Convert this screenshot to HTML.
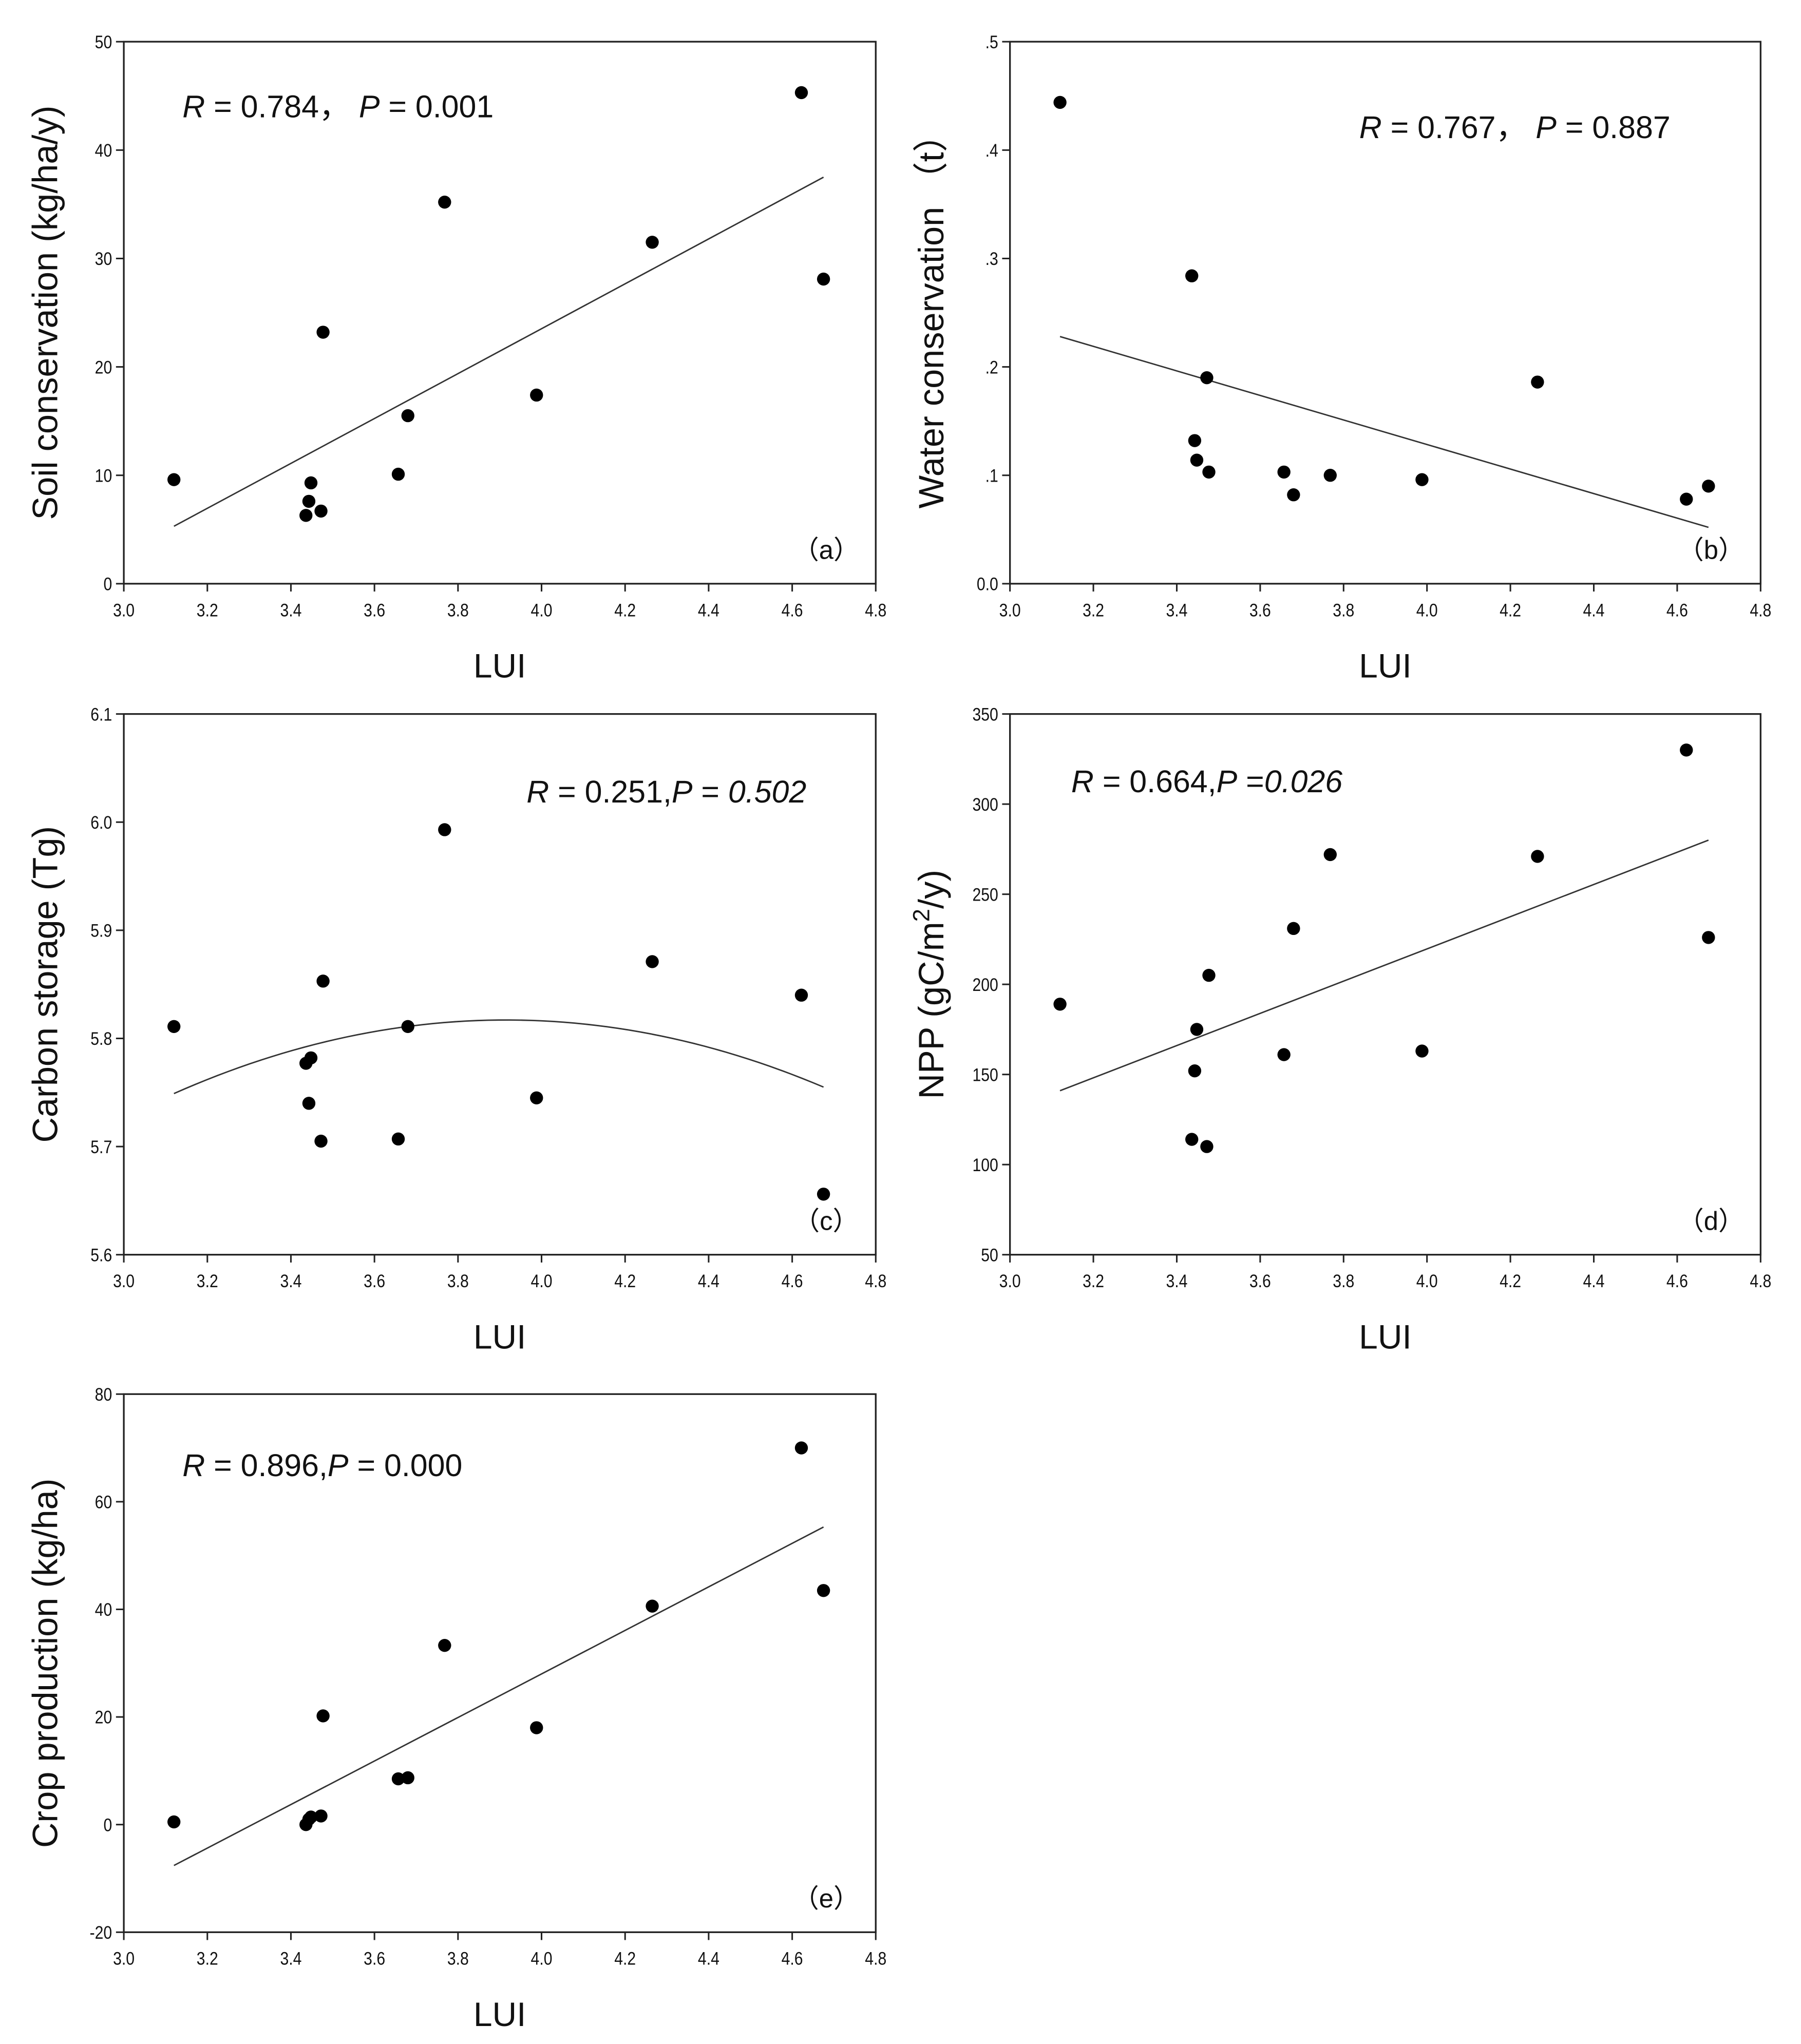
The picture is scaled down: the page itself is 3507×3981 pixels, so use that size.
<!DOCTYPE html>
<html><head><meta charset="utf-8"><style>
html,body{margin:0;padding:0;background:#fff;}
svg{display:block;}
text{font-family:"Liberation Sans","Noto Sans CJK SC",sans-serif;fill:#111;}
</style></head><body>
<svg id="fig" xmlns="http://www.w3.org/2000/svg" width="3507" height="3981" viewBox="0 0 1382 1568.8">
<rect x="0" y="0" width="1382" height="1568.8" fill="#fff"/>
</svg>
<script>
// Shared x values (LUI)
const luiX = [3.12, 3.436, 3.443, 3.448, 3.472, 3.477, 3.657, 3.68, 3.768, 3.988, 4.265, 4.622, 4.675];
const xTicks = ["3.0","3.2","3.4","3.6","3.8","4.0","4.2","4.4","4.6","4.8"];
// Panel a
const soilVals = [9.6, 6.3, 7.6, 9.3, 6.7, 23.2, 10.1, 15.5, 35.2, 17.4, 31.5, 45.3, 28.1];
const soilFit = [5.3, 37.5];
const soilTicks = ["0","10","20","30","40","50"];
// Panel b
const waterVals = [0.444, 0.284, 0.132, 0.114, 0.19, 0.103, 0.103, 0.082, 0.100, 0.096, 0.186, 0.078, 0.090];
const waterFit = [0.228, 0.052];
const waterTicks = ["0.0",".1",".2",".3",".4",".5"];
// Panel c
const carbonVals = [5.811, 5.777, 5.740, 5.782, 5.705, 5.853, 5.707, 5.811, 5.993, 5.745, 5.871, 5.840, 5.656];
const carbonFit = [5.749, 5.817, 5.755]; // at x start, mid, end (quadratic)
const carbonTicks = ["5.6","5.7","5.8","5.9","6.0","6.1"];
// Panel d
const nppVals = [189, 114, 152, 175, 110, 205, 161, 231, 272, 163, 271, 330, 226];
const nppFit = [141, 280];
const nppTicks = ["50","100","150","200","250","300","350"];
// Panel e
const cropVals = [0.5, 0.0, 1.0, 1.4, 1.6, 20.2, 8.5, 8.7, 33.3, 18.0, 40.6, 70.0, 43.5];
const cropFit = [-7.6, 55.3];
const cropTicks = ["-20","0","20","40","60","80"];

const NS = "http://www.w3.org/2000/svg";
const svg = document.getElementById("fig");
function mk(tag, attrs, parent){
  const e = document.createElementNS(NS, tag);
  for (const k in attrs) e.setAttribute(k, attrs[k]);
  (parent||svg).appendChild(e);
  return e;
}

function panel(opt){
  const g = mk("g", {});
  
  
  const {L,R,T,B,ymin,ymax} = opt;
  const sx = v => L + (v-3.0)/(1.8)*(R-L);
  const sy = v => B - (v-ymin)/(ymax-ymin)*(B-T);
  const frame = mk("rect", {x:L,y:T,width:R-L,height:B-T,fill:"none",stroke:"#222","stroke-width":1.3}, g);
  
  
  xTicks.forEach(t=>{
    const x = sx(parseFloat(t));
    mk("line",{x1:x,x2:x,y1:B,y2:B+6,stroke:"#222","stroke-width":1.2},g);
    const tx = mk("text",{x:x,y:B+25,"text-anchor":"middle","font-size":14,transform:`translate(${x},0) scale(0.85,1) translate(${-x},0)`},g);
    tx.textContent = t;
    
    
  });
  opt.yTicks.forEach(t=>{
    const y = sy(parseFloat(t));
    mk("line",{x1:L-6,x2:L,y1:y,y2:y,stroke:"#222","stroke-width":1.2},g);
    const tx = mk("text",{x:L-9,y:y+5,"text-anchor":"end","font-size":14,transform:`translate(${L-9},0) scale(0.85,1) translate(${-(L-9)},0)`},g);
    tx.textContent = t;
    
    
  });
  let d;
  if (opt.fit.length === 2){
    d = `M${sx(luiX[0])},${sy(opt.fit[0])} L${sx(luiX[12])},${sy(opt.fit[1])}`;
  } else {
    const x0=luiX[0], x2=luiX[12], x1=(x0+x2)/2;
    const [y0,y1,y2]=opt.fit;
    const pts=[];
    for(let i=0;i<=60;i++){
      const x=x0+(x2-x0)*i/60;
      const l0=((x-x1)*(x-x2))/((x0-x1)*(x0-x2));
      const l1=((x-x0)*(x-x2))/((x1-x0)*(x1-x2));
      const l2=((x-x0)*(x-x1))/((x2-x0)*(x2-x1));
      pts.push(`${sx(x)},${sy(y0*l0+y1*l1+y2*l2)}`);
    }
    d = "M"+pts.join(" L");
  }
  const fl = mk("path",{d:d,fill:"none",stroke:"#333","stroke-width":1.1},g);
  
  
  opt.vals.forEach((v,i)=>{
    const c = mk("circle",{cx:sx(luiX[i]),cy:sy(v),r:5,fill:"#000"},g);
    
    
  });
  const xt = mk("text",{x:(L+R)/2,y:B+72,"text-anchor":"middle","font-size":26},g);
  xt.textContent = "LUI";
  
  
  const yc = (T+B)/2, xc = L-60;
  const yt = mk("text",{x:xc,y:yc,"text-anchor":"middle","font-size":27,transform:`rotate(-90 ${xc} ${yc}) translate(0,9)`},g);
  yt.innerHTML = opt.ytitle;
  
  
  const an = mk("text",{x:opt.ax,y:opt.ay,"font-size":24},g);
  an.innerHTML = opt.ann;
  
  
  const pl = mk("text",{x:R-38,y:B-19,"font-size":20},g);
  pl.textContent = "（"+opt.letter+"）";
  
  
  pl.setAttribute('text-anchor','middle');
}

panel({name:"panel-a-soil",L:95,R:672,T:32,B:448,ymin:0,ymax:50,yTicks:soilTicks,vals:soilVals,fit:soilFit,
  ytitle:"Soil conservation (kg/ha/y)",ax:140,ay:90,letter:"a",
  ann:'<tspan font-style="italic">R</tspan> = 0.784，  <tspan font-style="italic">P</tspan> = 0.001'});
panel({name:"panel-b-water",L:775,R:1351,T:32,B:448,ymin:0,ymax:0.5,yTicks:waterTicks,vals:waterVals,fit:waterFit,
  ytitle:"Water conservation （t）",ax:1043,ay:106,letter:"b",
  ann:'<tspan font-style="italic">R</tspan> = 0.767，  <tspan font-style="italic">P</tspan> = 0.887'});
panel({name:"panel-c-carbon",L:95,R:672,T:548,B:963,ymin:5.6,ymax:6.1,yTicks:carbonTicks,vals:carbonVals,fit:carbonFit,
  ytitle:"Carbon storage (Tg)",ax:404,ay:616,letter:"c",
  ann:'<tspan font-style="italic">R</tspan> = 0.251,<tspan font-style="italic">P</tspan> = <tspan font-style="italic">0.502</tspan>'});
panel({name:"panel-d-npp",L:775,R:1351,T:548,B:963,ymin:50,ymax:350,yTicks:nppTicks,vals:nppVals,fit:nppFit,
  ytitle:'NPP (gC/m<tspan dy="-11" font-size="18">2</tspan><tspan dy="11">/y)</tspan>',ax:822,ay:608,letter:"d",
  ann:'<tspan font-style="italic">R</tspan> = 0.664,<tspan font-style="italic">P</tspan> =<tspan font-style="italic">0.026</tspan>'});
panel({name:"panel-e-crop",L:95,R:672,T:1070,B:1483,ymin:-20,ymax:80,yTicks:cropTicks,vals:cropVals,fit:cropFit,
  ytitle:"Crop production (kg/ha)",ax:140,ay:1133,letter:"e",
  ann:'<tspan font-style="italic">R</tspan> = 0.896,<tspan font-style="italic">P</tspan> = 0.000'});
</script>
</body></html>
